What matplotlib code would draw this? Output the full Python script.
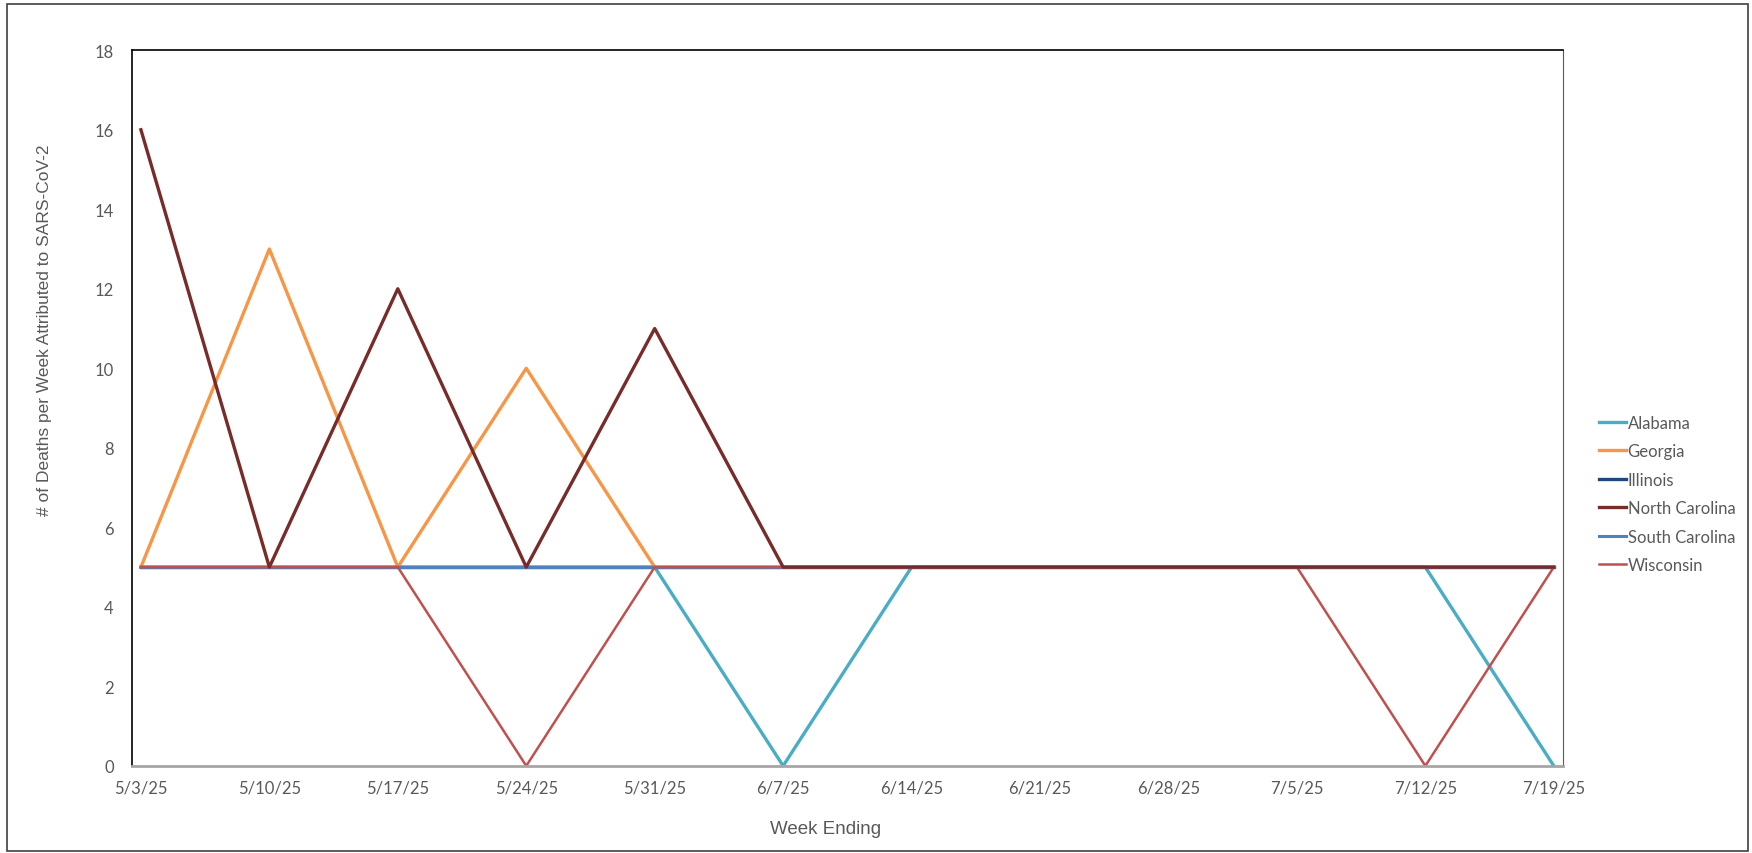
import matplotlib
matplotlib.use("Agg")
import matplotlib.pyplot as plt
from matplotlib.patches import Rectangle

weeks = ["5/3/25", "5/10/25", "5/17/25", "5/24/25", "5/31/25", "6/7/25",
         "6/14/25", "6/21/25", "6/28/25", "7/5/25", "7/12/25", "7/19/25"]

alabama = [5, 5, 5, 5, 5, 0, 5, 5, 5, 5, 5, 0]
georgia = [5, 13, 5, 10, 5, 5, 5, 5, 5, 5, 5, 5]
illinois = [5, 5, 5, 5, 5, 5, 5, 5, 5, 5, 5, 5]
north_carolina = [16, 5, 12, 5, 11, 5, 5, 5, 5, 5, 5, 5]
south_carolina = [5, 5, 5, 5, 5, 5, 5, 5, 5, 5, 5, 5]
wisconsin = [5, 5, 5, 0, 5, 5, 5, 5, 5, 5, 0, 5]

x = list(range(len(weeks)))

fig = plt.figure(figsize=(17.52, 8.54), dpi=100)
ax = fig.add_axes([0.0753, 0.102, 0.8167, 0.838])

ax.plot(x, alabama, color="#4BACC6", lw=2.4, label="Alabama")
ax.plot(x, georgia, color="#F79646", lw=2.4, label="Georgia")
ax.plot(x, illinois, color="#1F497D", lw=2.4, label="Illinois")
ax.plot(x, south_carolina, color="#4F81BD", lw=2.2, label="South Carolina")
ax.plot(x, wisconsin, color="#C0504D", lw=1.8, label="Wisconsin")
ax.plot(x, north_carolina, color="#772C2A", lw=2.4, label="North Carolina")

ax.set_xlim(-0.07, 11.07)
ax.set_ylim(0, 18)
ax.set_yticks(range(0, 19, 2))
ax.set_xticks(x)
ax.set_xticklabels(weeks)
ax.tick_params(length=0, labelsize=12, labelcolor="#595959")
ax.tick_params(axis="x", pad=10)
ax.tick_params(axis="y", pad=13)
for lab in ax.get_xticklabels() + ax.get_yticklabels():
    lab.set_family("Lato")

for side in ["top", "left"]:
    ax.spines[side].set_color("black")
    ax.spines[side].set_linewidth(1.2)
ax.spines["right"].set_color("#595959")
ax.spines["bottom"].set_color("#A6A6A6")
ax.spines["bottom"].set_linewidth(2)

ax.set_xlabel("Week Ending", fontsize=13.5, color="#595959", family="Liberation Sans")
ax.xaxis.set_label_coords(0.485, -0.076)
ax.set_ylabel("# of Deaths per Week Attributed to SARS-CoV-2", fontsize=12.5,
              color="#595959", family="Liberation Sans")
ax.yaxis.set_label_coords(-0.056, 0.61)

handles, labels = ax.get_legend_handles_labels()
order = ["Alabama", "Georgia", "Illinois", "North Carolina", "South Carolina", "Wisconsin"]
hmap = dict(zip(labels, handles))
leg = ax.legend([hmap[k] for k in order], order, loc="center left",
                bbox_to_anchor=(1.015, 0.38), frameon=False,
                handlelength=1.6, handletextpad=0.1, labelspacing=0.75,
                prop={"family": "Lato", "size": 12})
for t in leg.get_texts():
    t.set_color("#595959")

fig.patches.append(Rectangle((0.004, 0.002), 0.994, 0.992, transform=fig.transFigure,
                             fill=False, edgecolor="#404040", lw=1.2))

fig.savefig("out.png", dpi=100)
